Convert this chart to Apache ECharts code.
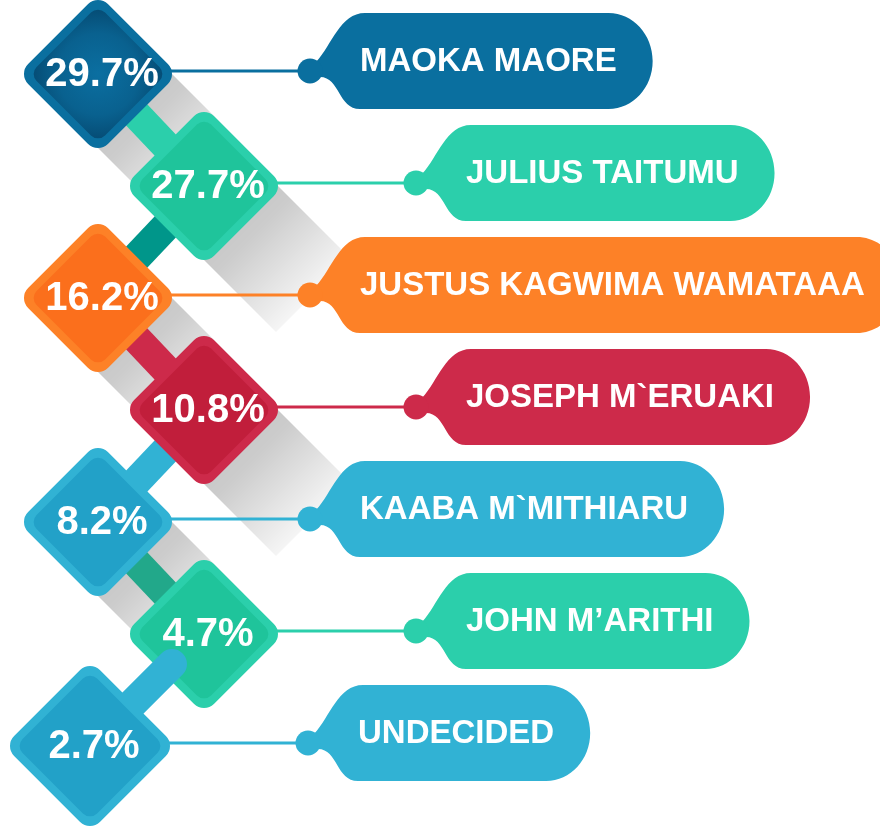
<!DOCTYPE html>
<html>
<head>
<meta charset="utf-8">
<title>Poll results</title>
<script src="https://cdn.jsdelivr.net/npm/echarts@6/dist/echarts.min.js"></script>
<style>
  html, body { margin: 0; padding: 0; background: #fff; }
  #chart { width: 880px; height: 833px; }
</style>
</head>
<body>
<div id="chart"></div>
<script>
// candidates and their share, top to bottom
const names = ['MAOKA MAORE', 'JULIUS TAITUMU', 'JUSTUS KAGWIMA WAMATAAA', 'JOSEPH M`ERUAKI', 'KAABA M`MITHIARU', 'JOHN M\u2019ARITHI', 'UNDECIDED']
const shares = [29.7, 27.7, 16.2, 10.8, 8.2, 4.7, 2.7]

// colours
const tagColors = ['#0a6f9f', '#2bcfab', '#fd8127', '#cd2a4a', '#31b2d4', '#2bcfab', '#31b2d4']
const innerColors = ['#085f8c', '#1fc49b', '#fb6f1c', '#c11e3b', '#22a1c8', '#1fc49b', '#22a1c8']
const linkColors = [null, '#2bcfab', '#00968a', '#cd2a4a', '#31b2d4', '#22a88a', '#31b2d4']

// layout
const N = names.length
const LEFT_X = 98
const RIGHT_X = 204
const LAST_X = 90
const HALF = 74
const HALF_LAST = 80
const LINK_W = 30
const STUB = 82
const SHADOW_LEN = 72
const SHADOWED = 5
const DOT_GAP = 138
const TAG_FONT = 'bold 33px "Liberation Sans", Arial, sans-serif'
const VALUE_FONT = 'bold 40px "Liberation Sans", Arial, sans-serif'

const measure = document.createElement('canvas').getContext('2d')
measure.font = TAG_FONT

function half (i) {
  return i === N - 1 ? HALF_LAST : HALF
}

function centre (api, i) {
  const x = i === N - 1 ? LAST_X : (i % 2 ? RIGHT_X : LEFT_X)
  const p = api.coord([x, i])
  return [p[0], p[1] + 3]
}

function renderShadow (params, api) {
  const i = params.dataIndex
  if (i >= SHADOWED) return
  const [cx, cy] = centre(api, i)
  const h = half(i)
  const d = SHADOW_LEN
  return {
    type: 'polygon',
    shape: {
      points: [[cx, cy - h], [cx + h, cy], [cx + h + d, cy + d], [cx + d, cy + h + d], [cx, cy + h], [cx - h, cy]]
    },
    style: {
      fill: new echarts.graphic.LinearGradient(cx, cy, cx + d + h * 0.5, cy + d + h * 0.5, [
        { offset: 0, color: 'rgba(0,0,0,0.25)' },
        { offset: 0.45, color: 'rgba(0,0,0,0.2)' },
        { offset: 1, color: 'rgba(0,0,0,0.04)' }
      ], true)
    }
  }
}

function renderLink (params, api) {
  const i = params.dataIndex
  if (i === 0 || i === N - 1) return
  const a = centre(api, i - 1)
  const b = centre(api, i)
  return {
    type: 'line',
    shape: { x1: a[0], y1: a[1], x2: b[0], y2: b[1] },
    style: { stroke: linkColors[i], lineWidth: LINK_W }
  }
}

function renderTag (params, api) {
  const i = params.dataIndex
  const [cx] = centre(api, i)
  const dy = api.coord([0, i])[1]
  const dx = cx + half(i) + DOT_GAP
  const tw = measure.measureText(names[i]).width
  const tx = dx + 50
  const right = tx + tw + 36
  const top = dy - 58
  const bot = dy + 38
  const mid = (top + bot) / 2
  const ry = (bot - top) / 2
  const rx = 44
  const k = 0.5523
  const T = 55
  const path = [
    'M', dx + 6, dy - 9,
    'C', dx + 22, dy - 26, dx + T - 25, top, dx + T, top,
    'L', right - rx, top,
    'C', right - rx + rx * k, top, right, mid - ry * k, right, mid,
    'C', right, mid + ry * k, right - rx + rx * k, bot, right - rx, bot,
    'L', dx + T - 5, bot,
    'C', dx + 28, bot, dx + 30, dy + 6, dx + 10, dy + 6,
    'Z'
  ].join(' ')
  const c = tagColors[i]
  return {
    type: 'group',
    children: [
      { type: 'line', shape: { x1: cx, y1: dy, x2: dx, y2: dy }, style: { stroke: c, lineWidth: 3 } },
      { type: 'path', shape: { pathData: path }, style: { fill: c } },
      { type: 'circle', shape: { cx: dx, cy: dy, r: 12.5 }, style: { fill: c } },
      {
        type: 'text',
        style: { text: names[i], x: tx, y: dy - 9, fill: '#fff', font: TAG_FONT, align: 'left', verticalAlign: 'middle' }
      }
    ]
  }
}

function renderDiamond (params, api) {
  const i = params.dataIndex
  const [cx, cy] = centre(api, i)
  const h = half(i)
  const r = 14
  const s = (h + 0.414 * r) * Math.SQRT2
  const si = s - 16
  const children = []
  if (i === N - 1) {
    children.push({
      type: 'line',
      shape: { x1: cx, y1: cy, x2: cx + STUB, y2: cy - STUB },
      style: { stroke: linkColors[i], lineWidth: LINK_W, lineCap: 'round' }
    })
  }
  const innerFill = i === 0
    ? new echarts.graphic.RadialGradient(0.5, 0.5, 0.7, [
      { offset: 0, color: '#0b6fa1' },
      { offset: 0.6, color: '#09618f' },
      { offset: 1, color: '#054a72' }
    ])
    : innerColors[i]
  children.push(
    {
      type: 'rect',
      x: cx,
      y: cy,
      rotation: Math.PI / 4,
      shape: { x: -s / 2, y: -s / 2, width: s, height: s, r: r },
      style: { fill: tagColors[i] }
    },
    {
      type: 'rect',
      x: cx,
      y: cy,
      rotation: Math.PI / 4,
      shape: { x: -si / 2, y: -si / 2, width: si, height: si, r: r - 4 },
      style: { fill: innerFill }
    },
    {
      type: 'text',
      style: {
        text: shares[i].toFixed(1) + '%',
        x: cx + 4,
        y: cy + 1,
        fill: '#fff',
        font: VALUE_FONT,
        align: 'center',
        verticalAlign: 'middle'
      }
    }
  )
  return { type: 'group', children }
}

const rows = names.map((name, i) => ({ name, value: [0, i, shares[i]] }))

const chart = echarts.init(document.getElementById('chart'))
const option = {
  animation: false,
  grid: { left: 0, right: 0, top: 15, bottom: 34 },
  xAxis: { type: 'value', min: 0, max: 880, show: false },
  yAxis: { type: 'category', data: names, inverse: true, show: false },
  series: [
    { type: 'custom', z: 1, silent: true, renderItem: renderShadow, encode: { x: 0, y: 1 }, data: rows },
    { type: 'custom', z: 2, silent: true, renderItem: renderLink, encode: { x: 0, y: 1 }, data: rows },
    { type: 'custom', z: 3, silent: true, renderItem: renderTag, encode: { x: 0, y: 1 }, data: rows },
    { type: 'custom', z: 4, silent: true, renderItem: renderDiamond, encode: { x: 0, y: 1 }, data: rows }
  ]
}
chart.setOption(option)
</script>
</body>
</html>
